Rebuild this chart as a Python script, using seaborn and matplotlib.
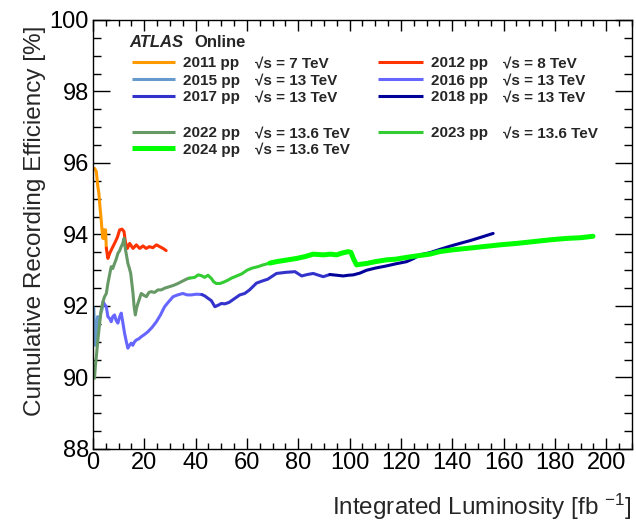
import matplotlib
matplotlib.use("Agg")
import matplotlib.pyplot as plt
from matplotlib.ticker import MultipleLocator
import pandas as pd
import seaborn as sns

# Cumulative recording efficiency [%] versus integrated luminosity [fb^-1]
lumi_2011 = [0.6, 1.3, 1.6, 1.9, 2.3, 2.6, 2.9, 3.2, 3.5, 3.9, 4.3, 4.6, 4.9, 5.2]
eff_2011 = [95.85, 95.76, 95.55, 95.34, 95.15, 94.87, 94.64, 94.41, 94.13, 93.89, 94.13, 93.89, 94.13, 93.62]

lumi_2012 = [5.2, 5.8, 6.5, 7.4, 8.4, 9.5, 10.4, 11.3, 12.1, 12.6, 13.4, 14.3, 15.6, 16.9, 18.2,
             19.5, 20.7, 22.0, 23.3, 24.7, 26.0, 27.3, 28.5]
eff_2012 = [93.62, 93.33, 93.47, 93.61, 93.75, 93.92, 94.13, 94.15, 94.08, 93.80, 93.61, 93.75, 93.61,
            93.71, 93.61, 93.68, 93.61, 93.66, 93.63, 93.71, 93.66, 93.61, 93.55]

lumi_2015 = [0.3, 0.6, 0.9, 1.2, 1.5, 1.8, 2.1, 2.5, 3.0, 3.5, 3.9]
eff_2015 = [91.95, 91.3, 90.9, 91.1, 91.5, 91.7, 91.45, 91.6, 91.8, 91.9, 92.05]

lumi_2016 = [3.9, 4.5, 5.2, 5.8, 6.5, 7.1, 7.7, 8.4, 9.0, 9.7, 10.4, 11.0, 11.6, 12.3, 13.0, 13.6,
             14.2, 14.9, 15.5, 16.2, 16.9, 17.8, 18.8, 20.0, 21.4, 23.0, 24.7, 26.3, 27.9, 29.5,
             31.2, 33.0, 35.0, 36.7, 38.3, 40.3, 42.4]
eff_2016 = [92.12, 92.05, 91.98, 91.70, 91.65, 91.56, 91.70, 91.75, 91.60, 91.52, 91.70, 91.80,
            91.55, 91.24, 91.00, 90.82, 90.90, 90.96, 90.90, 91.00, 91.05, 91.08, 91.14, 91.20,
            91.28, 91.40, 91.56, 91.75, 91.98, 92.12, 92.26, 92.31, 92.35, 92.31, 92.31, 92.33, 92.32]

lumi_2017 = [42.4, 43.6, 44.9, 46.1, 47.5, 49.0, 50.0, 51.4, 53.0, 55.0, 57.2, 59.1, 61.0, 63.7,
             66.0, 68.1, 71.5, 75.0, 78.7, 81.3, 83.5, 85.8, 87.5, 89.7, 92.3]
eff_2017 = [92.32, 92.28, 92.21, 92.15, 91.98, 92.03, 92.07, 92.06, 92.10, 92.20, 92.31, 92.35,
            92.45, 92.64, 92.70, 92.75, 92.91, 92.94, 92.96, 92.84, 92.88, 92.91, 92.87, 92.82, 92.88]

lumi_2018 = [92.3, 95.0, 97.5, 99.5, 101.4, 104.0, 106.6, 110.0, 114.3, 118.0, 122.2, 125.0,
             127.3, 131.2, 135.0, 139.0, 142.9, 147.0, 151.5, 155.9]
eff_2018 = [92.88, 92.86, 92.84, 92.86, 92.87, 92.92, 93.00, 93.06, 93.12, 93.18, 93.24, 93.33,
            93.43, 93.49, 93.58, 93.67, 93.75, 93.83, 93.93, 94.03]

lumi_2022 = [0.6, 0.9, 1.3, 1.9, 2.6, 3.2, 3.9, 4.5, 5.2, 5.8, 6.4, 7.1, 7.7, 8.4, 9.0, 9.7, 10.4,
             11.0, 11.6, 12.1, 12.6, 13.1, 13.6, 14.2, 14.7, 15.2, 15.6, 16.0, 16.5, 17.0, 17.5,
             18.1, 18.8, 19.8, 20.8, 21.8, 22.7, 24.0, 25.3, 26.6, 28.0, 29.8, 31.5, 33.1, 35.0,
             37.0, 37.6]
eff_2022 = [89.98, 90.30, 90.58, 91.05, 91.52, 91.89, 92.12, 92.26, 92.35, 92.63, 92.85, 93.10,
            93.05, 93.19, 93.30, 93.47, 93.55, 93.66, 93.75, 93.89, 93.60, 93.40, 93.19, 93.05,
            92.91, 92.60, 92.35, 92.00, 91.75, 91.95, 92.07, 92.20, 92.35, 92.30, 92.26, 92.38,
            92.40, 92.38, 92.45, 92.45, 92.50, 92.54, 92.58, 92.63, 92.70, 92.77, 92.78]

lumi_2023 = [37.6, 39.6, 41.0, 42.2, 43.5, 44.8, 46.0, 47.0, 48.0, 49.5, 51.0, 52.5, 54.0, 56.0,
             58.0, 60.0, 62.0, 64.3, 66.3, 68.9]
eff_2023 = [92.78, 92.80, 92.87, 92.85, 92.80, 92.86, 92.78, 92.68, 92.63, 92.63, 92.67, 92.72,
            92.78, 92.84, 92.90, 93.00, 93.06, 93.10, 93.15, 93.20]

lumi_2024 = [68.9, 71.5, 75.0, 79.3, 82.5, 85.8, 89.7, 92.5, 94.9, 97.0, 99.4, 100.5, 101.5, 102.7,
             104.5, 106.6, 110.0, 114.3, 118.0, 122.2, 126.0, 131.2, 135.0, 140.0, 145.5, 152.0,
             158.5, 165.0, 171.5, 178.0, 184.5, 190.0, 194.8]
eff_2024 = [93.20, 93.24, 93.28, 93.33, 93.38, 93.45, 93.43, 93.45, 93.43, 93.48, 93.52, 93.50,
            93.32, 93.15, 93.17, 93.19, 93.24, 93.29, 93.31, 93.36, 93.40, 93.45, 93.52, 93.57,
            93.61, 93.66, 93.71, 93.75, 93.80, 93.85, 93.89, 93.91, 93.95]

periods = ["2011", "2012", "2015", "2016", "2017", "2018", "2022", "2023", "2024"]
energies = ["7", "8", "13", "13", "13", "13", "13.6", "13.6", "13.6"]
colors = ["#ff9900", "#ff3300", "#6699cc", "#6666ff", "#3333cc", "#000099",
          "#669966", "#33cc33", "#00ff00"]
widths = [2.2, 2.2, 2.2, 2.2, 2.2, 2.2, 2.2, 2.2, 3.6]
series = {
    "2011": (lumi_2011, eff_2011), "2012": (lumi_2012, eff_2012),
    "2015": (lumi_2015, eff_2015), "2016": (lumi_2016, eff_2016),
    "2017": (lumi_2017, eff_2017), "2018": (lumi_2018, eff_2018),
    "2022": (lumi_2022, eff_2022), "2023": (lumi_2023, eff_2023),
    "2024": (lumi_2024, eff_2024),
}

frames = [pd.DataFrame({"period": p, "lumi": series[p][0], "eff": series[p][1]}) for p in periods]
df = pd.concat(frames, ignore_index=True)

sns.set_style("ticks")
plt.rcParams["font.family"] = ["Liberation Sans", "DejaVu Sans"]
plt.rcParams["mathtext.fontset"] = "custom"
plt.rcParams["mathtext.rm"] = "Liberation Sans"
plt.rcParams["mathtext.it"] = "Liberation Sans:italic"

fig = plt.figure(figsize=(6.36, 5.23), dpi=100)
ax = fig.add_axes([0.1462, 0.1415, 0.8475, 0.8203])

for p, c, w in zip(periods, colors, widths):
    sns.lineplot(data=df[df["period"] == p], x="lumi", y="eff", color=c, linewidth=w,
                 estimator=None, sort=False, ax=ax, legend=False)

ax.set_xlim(0, 210)
ax.set_ylim(88, 100)
ax.xaxis.set_major_locator(MultipleLocator(20))
ax.xaxis.set_minor_locator(MultipleLocator(5))
ax.yaxis.set_major_locator(MultipleLocator(2))
ax.yaxis.set_minor_locator(MultipleLocator(0.5))
ax.tick_params(which="both", direction="in", top=True, right=True, colors="black",
               labelsize=17, width=1.0)
ax.tick_params(axis="x", which="major", length=8, pad=2)
ax.tick_params(axis="x", which="minor", length=4)
ax.tick_params(axis="y", which="major", length=12, pad=3)
ax.tick_params(axis="y", which="minor", length=6)
for s in ax.spines.values():
    s.set_color("black")
    s.set_linewidth(1.0)

ax.set_xlabel(r"Integrated Luminosity [fb $^{-1}$]", fontsize=17.5, loc="right")
ax.set_ylabel("Cumulative Recording Efficiency [%]", fontsize=17.5, loc="top")
ax.xaxis.set_label_coords(1.0, -0.1)
ax.yaxis.set_label_coords(-0.088, 0.988)

# Two-column key: line sample, period name, centre-of-mass energy
col_line = [(0.0718, 0.152), (0.529, 0.612)]
col_name = [0.1675, 0.628]
col_sqrt = [0.3006, 0.761]
row_base = [0.890, 0.849, 0.810, None, 0.727, 0.688]
slots = {"2011": (0, 0), "2012": (1, 0), "2015": (0, 1), "2016": (1, 1),
         "2017": (0, 2), "2018": (1, 2), "2022": (0, 4), "2023": (1, 4), "2024": (0, 5)}
ax.text(0.0674, 0.9375, "ATLAS", transform=ax.transAxes, fontsize=12,
        fontweight="bold", fontstyle="italic", va="baseline")
ax.text(0.189, 0.9375, "Online", transform=ax.transAxes, fontsize=12,
        fontweight="bold", va="baseline")
for p, e, c, w in zip(periods, energies, colors, widths):
    col, row = slots[p]
    yb = row_base[row]
    x0, x1 = col_line[col]
    ax.plot([x0, x1], [yb + 0.0125, yb + 0.0125], transform=ax.transAxes, color=c,
            linewidth=w, solid_capstyle="butt")
    ax.text(col_name[col], yb, f"{p} pp", transform=ax.transAxes, fontsize=11,
            fontweight="bold", va="baseline")
    ax.text(col_sqrt[col], yb, f"\u221as = {e} TeV", transform=ax.transAxes,
            fontsize=11, fontweight="bold", va="baseline")

fig.savefig("out.png", dpi=100)
